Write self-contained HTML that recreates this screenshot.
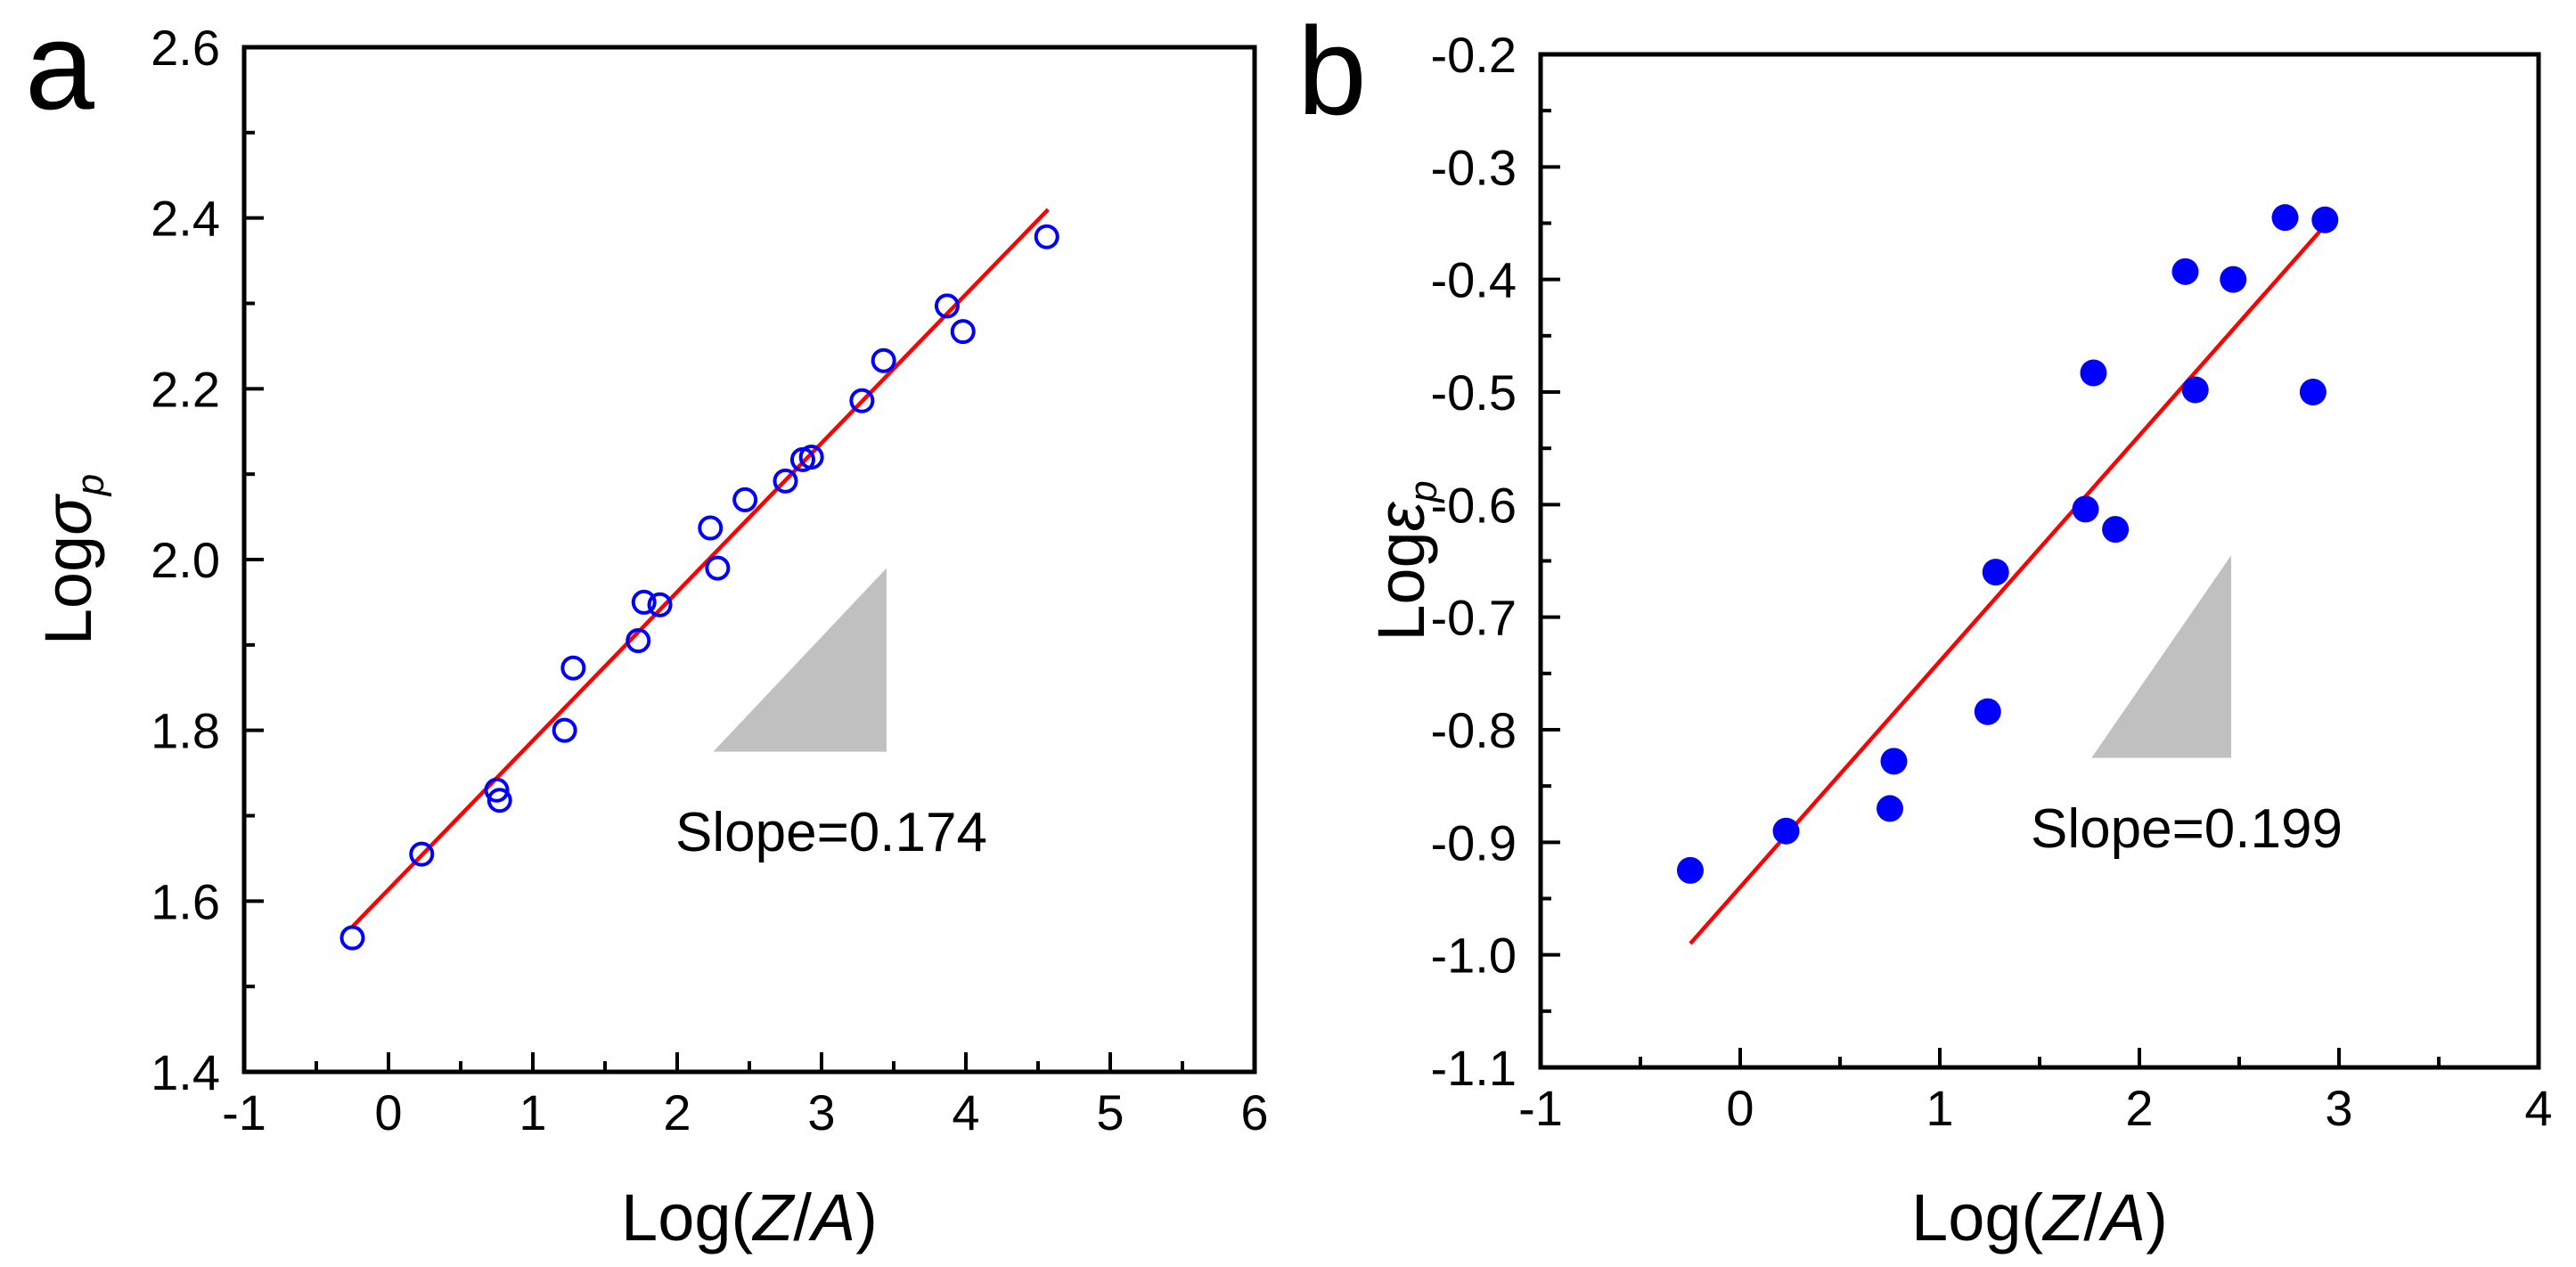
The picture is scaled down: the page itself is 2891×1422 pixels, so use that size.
<!DOCTYPE html>
<html><head><meta charset="utf-8"><style>
html,body{margin:0;padding:0;background:#fff;}
svg{display:block;font-family:"Liberation Sans",Arial,sans-serif;}
</style></head><body>
<svg id="fig" width="2891" height="1422" viewBox="0 0 2891 1422" xmlns="http://www.w3.org/2000/svg">
<rect width="2891" height="1422" fill="#fff"/>
<g id="pa"></g>
<g id="pb"></g>
</svg>
<script>
// Panel a data
const aX = [-0.25,0.23,0.75,0.77,1.22,1.28,1.73,1.77,1.88,2.23,2.28,2.47,2.75,2.87,2.93,3.28,3.43,3.87,3.98,4.56];
const aY = [1.557,1.655,1.73,1.718,1.80,1.873,1.905,1.95,1.947,2.037,1.99,2.07,2.092,2.117,2.12,2.186,2.233,2.297,2.267,2.378];
const aFitX = [-0.25,4.57];
const aFitY = [1.570,2.410];
const aXTicks = [-1,0,1,2,3,4,5,6];
const aYTicks = [1.4,1.6,1.8,2.0,2.2,2.4,2.6];
const aYTickLabels = ["1.4","1.6","1.8","2.0","2.2","2.4","2.6"];
const aTriX = [2.25,3.45,3.45];
const aTriY = [1.775,1.775,1.99];
// Panel b data
const bX = [-0.25,0.23,0.75,0.77,1.24,1.28,1.73,1.77,1.88,2.23,2.28,2.47,2.73,2.87,2.93];
const bY = [-0.925,-0.89,-0.87,-0.828,-0.784,-0.66,-0.604,-0.483,-0.622,-0.393,-0.498,-0.40,-0.345,-0.50,-0.347];
const bFitX = [-0.25,2.93];
const bFitY = [-0.99,-0.352];
const bXTicks = [-1,0,1,2,3,4];
const bYTicks = [-1.1,-1.0,-0.9,-0.8,-0.7,-0.6,-0.5,-0.4,-0.3,-0.2];
const bYTickLabels = ["-1.1","-1.0","-0.9","-0.8","-0.7","-0.6","-0.5","-0.4","-0.3","-0.2"];
const bTriX = [1.76,2.46,2.46];
const bTriY = [-0.825,-0.825,-0.645];

const NS="http://www.w3.org/2000/svg";
function mk(parent,tag,attrs){const e=document.createElementNS(NS,tag);for(const k in attrs)e.setAttribute(k,attrs[k]);parent.appendChild(e);return e;}

function panel(g,cfg){
  const sx=v=>cfg.L+(v-cfg.xmin)/(cfg.xmax-cfg.xmin)*(cfg.R-cfg.L);
  const sy=v=>cfg.B-(v-cfg.ymin)/(cfg.ymax-cfg.ymin)*(cfg.B-cfg.T);
  const xstep=cfg.xTicks[1]-cfg.xTicks[0];
  cfg.xTicks.forEach((v,i)=>{
    const t=mk(g,'line',{x1:sx(v),x2:sx(v),y1:cfg.B,y2:cfg.B-22,stroke:'#000','stroke-width':4});
    
    
    if(i<cfg.xTicks.length-1){
      const m=mk(g,'line',{x1:sx(v+xstep/2),x2:sx(v+xstep/2),y1:cfg.B,y2:cfg.B-12,stroke:'#000','stroke-width':4});
      
      
    }
    const tx=mk(g,'text',{x:sx(v),y:cfg.B+65,'font-size':56,'text-anchor':'middle'});
    tx.textContent=String(v);
    
    
  });
  const ystep=cfg.yTicks[1]-cfg.yTicks[0];
  cfg.yTicks.forEach((v,i)=>{
    const t=mk(g,'line',{x1:cfg.L,x2:cfg.L+22,y1:sy(v),y2:sy(v),stroke:'#000','stroke-width':4});
    
    
    if(i<cfg.yTicks.length-1){
      const m=mk(g,'line',{x1:cfg.L,x2:cfg.L+12,y1:sy(v+ystep/2),y2:sy(v+ystep/2),stroke:'#000','stroke-width':4});
      
      
    }
    const tx=mk(g,'text',{x:cfg.L-27,y:sy(v)+20,'font-size':56,'text-anchor':'end'});
    tx.textContent=cfg.yLabels[i];
    
    
  });
  const fr=mk(g,'rect',{x:cfg.L,y:cfg.T,width:cfg.R-cfg.L,height:cfg.B-cfg.T,fill:'none',stroke:'#000','stroke-width':5});
  
  
  const tri=mk(g,'polygon',{points:cfg.triX.map((x,i)=>sx(x)+','+sy(cfg.triY[i])).join(' '),fill:'#c0c0c0'});
  
  
  const st=mk(g,'text',{x:cfg.slopeX,y:cfg.slopeY,'font-size':62});
  st.textContent=cfg.slopeText;
  
  
  const fl=mk(g,'line',{x1:sx(cfg.fitX[0]),y1:sy(cfg.fitY[0]),x2:sx(cfg.fitX[1]),y2:sy(cfg.fitY[1]),stroke:'#ff0000','stroke-width':4.5});
  
  
  cfg.px.forEach((x,i)=>{
    const c=cfg.filled?mk(g,'circle',{cx:sx(x),cy:sy(cfg.py[i]),r:15,fill:'#0000ff'})
      :mk(g,'circle',{cx:sx(x),cy:sy(cfg.py[i]),r:12,fill:'none',stroke:'#0000ff','stroke-width':4});
    
    
  });
  const xt=mk(g,'text',{x:(cfg.L+cfg.R)/2,y:1392,'font-size':74,'text-anchor':'middle'});
  xt.innerHTML='Log(<tspan font-style="italic">Z</tspan>/<tspan font-style="italic">A</tspan>)';
  
  
  const cy=(cfg.T+cfg.B)/2;
  const yt=mk(g,'text',{x:cfg.ytX,y:cy,'font-size':74,'text-anchor':'middle',transform:'rotate(-90 '+cfg.ytX+' '+cy+')'});
  yt.innerHTML='Log<tspan font-style="italic">'+cfg.sym+'</tspan><tspan font-style="italic" font-size="44" dy="14">p</tspan>';
  
  
  const pl=mk(g,'text',{x:cfg.letX,y:cfg.letY,'font-size':140});
  pl.textContent=cfg.letter;
  
  
}
panel(document.getElementById('pa'),{L:274,R:1408,T:53,B:1203,xmin:-1,xmax:6,ymin:1.4,ymax:2.6,
  xTicks:aXTicks,yTicks:aYTicks,yLabels:aYTickLabels,px:aX,py:aY,fitX:aFitX,fitY:aFitY,triX:aTriX,triY:aTriY,
  filled:false,slopeText:'Slope=0.174',slopeX:758,slopeY:955,sym:'σ',ytX:102,letter:'a',letX:28,letY:122});
panel(document.getElementById('pb'),{L:1729,R:2849,T:61,B:1198,xmin:-1,xmax:4,ymin:-1.1,ymax:-0.2,
  xTicks:bXTicks,yTicks:bYTicks,yLabels:bYTickLabels,px:bX,py:bY,fitX:bFitX,fitY:bFitY,triX:bTriX,triY:bTriY,
  filled:true,slopeText:'Slope=0.199',slopeX:2279,slopeY:951,sym:'ε',ytX:1598,letter:'b',letX:1456,letY:128});
</script>
</body></html>
